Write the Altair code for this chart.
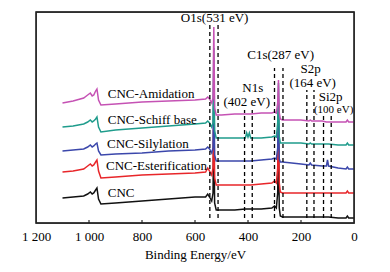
import altair as alt
import pandas as pd

# Binding energy grid (eV) shared by all spectra
ev = [1100, 1060, 1020, 1005, 995, 988, 982, 975, 970, 964, 955, 900, 800, 700, 600,
      560, 552, 545, 537, 532, 529, 526, 520, 500, 450, 410, 405, 400, 395, 390, 350,
      310, 300, 293, 288, 285, 282, 278, 270, 200, 170, 165, 160, 120, 104, 100, 96,
      60, 30, 25, 20, 0]

cnc = [25, 26, 27, 29, 31, 29, 30, 33, 35, 24, 19, 20, 22, 24, 26,
       26, 29, 26, 22, 30, 100, 20, 13, 13, 13, 14, 14, 14, 14, 14, 14,
       15, 17, 15, 30, 80, 15, 7, 6, 6, 6, 6, 6, 6, 6, 6, 6,
       5, 5, 7, 5, 5]
ester = [51, 52, 54, 57, 59, 57, 58, 61, 63, 52, 45, 46, 48, 49, 50,
         51, 55, 52, 48, 55, 130, 45, 38, 38, 38, 38, 38, 38, 38, 38, 39,
         40, 42, 40, 55, 100, 40, 31, 30, 30, 30, 30, 30, 30, 30, 30, 30,
         30, 30, 32, 30, 30]
silyl = [72, 73, 74, 76, 78, 76, 77, 79, 80, 72, 68, 69, 70, 72, 73,
         74, 76, 74, 70, 75, 150, 68, 62, 62, 62, 62, 62, 62, 62, 62, 63,
         64, 65, 64, 75, 120, 64, 61, 61, 59, 58, 60, 58, 57, 57, 63, 57,
         55, 54, 56, 54, 54]
schiff = [96, 97, 99, 101, 103, 101, 102, 104, 106, 96, 91, 93, 95, 97, 99,
          100, 102, 100, 96, 100, 175, 92, 85, 85, 85, 85, 90, 86, 90, 85, 85,
          86, 87, 86, 100, 140, 86, 80, 80, 80, 79, 80, 79, 79, 79, 79, 79,
          78, 78, 80, 78, 78]
amid = [120, 122, 125, 128, 130, 127, 128, 132, 134, 123, 118, 119, 121, 122, 123,
        124, 126, 124, 120, 125, 196, 115, 108, 108, 109, 109, 109, 109, 109, 109, 110,
        110, 111, 110, 120, 143, 110, 104, 103, 103, 102, 103, 102, 102, 101, 101, 101,
        101, 101, 103, 101, 101]

series_names = ["CNC", "CNC-Esterification", "CNC-Silylation", "CNC-Schiff base", "CNC-Amidation"]
series_values = [cnc, ester, silyl, schiff, amid]
series_colors = ["#111111", "#e8262a", "#3b47ab", "#1f9c8c", "#c552b4"]

# Dashed marker lines (eV) and their top ends
marker_ev = [544, 513, 413, 384, 300, 268, 178, 151, 115, 86]
marker_top = [198, 198, 113, 113, 155, 155, 133, 133, 108, 108]
marker_bottom = [5] * len(marker_ev)

# Annotations
ann_text = ["O1s(531 eV)", "C1s(287 eV)", "N1s", "(402 eV)", "S2p", "(164 eV)", "Si2p"]
ann_x = [526, 277, 382, 405, 164, 156, 88]
ann_y = [205, 168, 135, 121, 154, 140, 126]
small_text = ["(100 eV)"]
small_x = [77]
small_y = [113]

name_x = [929, 936, 932, 929, 929]
name_y = [30, 57, 79, 103, 129]

tick_values = [1200, 1000, 800, 600, 400, 200, 0]
inner_ticks = [1000, 800, 600, 400, 200]

FONT = "Liberation Serif"

xscale = alt.Scale(domain=[0, 1200], reverse=True, nice=False)
yscale = alt.Scale(domain=[0, 211], nice=False, zero=False)

xaxis = alt.Axis(values=tick_values, ticks=False, domain=False, grid=False,
                 labelFont=FONT, labelFontSize=13, labelColor="black", labelFlush=False,
                 labelPadding=7, labelExpr="replace(format(datum.value, ','), ',', ' ')",
                 title="Binding Energy/eV", titleFont=FONT, titleFontSize=13,
                 titleFontWeight="normal", titleColor="black", titlePadding=5)

rows = []
for name, vals in zip(series_names, series_values):
    for k, (e, v) in enumerate(zip(ev, vals)):
        rows.append({"series": name, "ev": e, "I": v, "k": k})
spec_df = pd.DataFrame(rows)

X = alt.X("ev:Q", scale=xscale, axis=xaxis)
Y = alt.Y("I:Q", scale=yscale, axis=None)

layers = []
for name, col in zip(series_names, series_colors):
    layers.append(
        alt.Chart(spec_df).transform_filter(alt.datum.series == name)
        .mark_line(color=col, strokeWidth=1.5).encode(
            x=X, y=Y, order=alt.Order("k:Q"),
        )
    )

mdf = pd.DataFrame({"ev": marker_ev, "I": marker_bottom, "top": marker_top})
markers = alt.Chart(mdf).mark_rule(color="black", strokeWidth=1.3, strokeDash=[4, 3]).encode(
    x=X, y=Y, y2="top:Q",
)

tdf = pd.DataFrame({"ev": inner_ticks, "I": [0] * len(inner_ticks), "top": [3] * len(inner_ticks)})
ticks = alt.Chart(tdf).mark_rule(color="black", strokeWidth=1).encode(
    x=X, y=Y, y2="top:Q",
)

# plot frame (style element)
frame = alt.Chart(pd.DataFrame({"f": [0]})).mark_rect(
    fill=None, fillOpacity=0, stroke="#222222", strokeWidth=1.3
).encode(
    x=alt.value(0), x2=alt.value(318), y=alt.value(0), y2=alt.value(211)
)

adf = pd.DataFrame({"t": ann_text, "ev": ann_x, "I": ann_y})
ann = alt.Chart(adf).mark_text(font=FONT, fontSize=13, color="black", align="center",
                               baseline="middle").encode(x=X, y=Y, text="t:N")
sdf = pd.DataFrame({"t": small_text, "ev": small_x, "I": small_y})
ann_small = alt.Chart(sdf).mark_text(font=FONT, fontSize=11, color="black", align="center",
                                     baseline="middle").encode(x=X, y=Y, text="t:N")

ndf = pd.DataFrame({"t": series_names, "ev": name_x, "I": name_y})
names = alt.Chart(ndf).mark_text(font=FONT, fontSize=13, color="black", align="left",
                                 baseline="middle").encode(x=X, y=Y, text="t:N")

chart = alt.layer(*layers, markers, ticks, frame, ann, ann_small, names).properties(
    width=318, height=211,
    padding={"left": 36, "top": 12, "right": 36, "bottom": 49},
    autosize="none",
).configure_view(stroke="#222222", strokeWidth=1.3, fill="white")

chart.save("out.html", embed_options={"renderer": "svg", "actions": False})
